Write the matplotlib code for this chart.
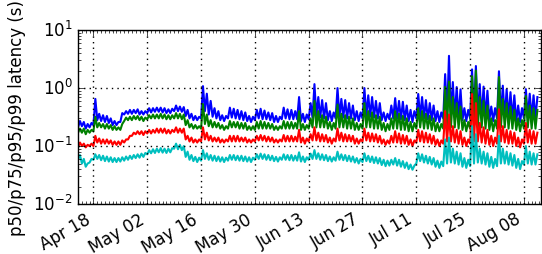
import numpy as np
import pandas as pd
import matplotlib
matplotlib.use("Agg")
import matplotlib.pyplot as plt
import matplotlib.dates as mdates
from matplotlib.ticker import LogLocator

plt.style.use("classic")

# one low (night) and one high (midday) value per day, from Apr 14 2016
start = "2016-04-14"
tick_dates = ["2016-04-18", "2016-05-02", "2016-05-16", "2016-05-30", "2016-06-13",
              "2016-06-27", "2016-07-11", "2016-07-25", "2016-08-08"]

p99_hi = [0.27, 0.26, 0.24, 0.25,
          0.65, 0.36, 0.34, 0.33, 0.30, 0.27, 0.26,
          0.37, 0.40, 0.42, 0.42, 0.43, 0.40, 0.40,
          0.45, 0.45, 0.46, 0.46, 0.45, 0.43, 0.44,
          0.50, 0.48, 0.47, 0.42, 0.36, 0.33, 0.32,
          1.08, 0.80, 0.60, 0.45, 0.40, 0.34, 0.33,
          0.46, 0.44, 0.42, 0.40, 0.38, 0.33, 0.32,
          0.42, 0.44, 0.41, 0.38, 0.37, 0.33, 0.32,
          0.46, 0.43, 0.42, 0.40, 0.70, 0.36, 0.35,
          0.55, 1.17, 0.70, 0.62, 0.55, 0.40, 0.38,
          1.00, 0.65, 0.62, 0.55, 0.50, 0.40, 0.38,
          1.00, 0.75, 0.70, 0.60, 0.55, 0.38, 0.36,
          0.50, 0.67, 0.60, 0.58, 0.50, 0.42, 0.40,
          0.79, 0.70, 0.62, 0.55, 0.50, 0.40, 0.38,
          1.74, 3.60, 1.27, 1.04, 0.95, 0.45, 0.42,
          2.10, 2.40, 1.17, 1.06, 0.90, 0.48, 0.45,
          1.95, 1.10, 0.95, 0.85, 0.75, 0.50, 0.45,
          0.96, 0.80, 0.75, 0.70]
p99_lo = [0.21, 0.22, 0.20, 0.21,
          0.23, 0.28, 0.27, 0.26, 0.25, 0.23, 0.23,
          0.26, 0.35, 0.36, 0.36, 0.37, 0.35, 0.35,
          0.37, 0.38, 0.39, 0.39, 0.38, 0.37, 0.37,
          0.40, 0.40, 0.39, 0.33, 0.30, 0.28, 0.28,
          0.30, 0.40, 0.35, 0.32, 0.30, 0.28, 0.27,
          0.30, 0.31, 0.30, 0.29, 0.28, 0.27, 0.26,
          0.28, 0.30, 0.29, 0.29, 0.28, 0.26, 0.26,
          0.29, 0.30, 0.29, 0.29, 0.29, 0.27, 0.26,
          0.29, 0.31, 0.32, 0.31, 0.30, 0.28, 0.27,
          0.30, 0.32, 0.31, 0.30, 0.30, 0.28, 0.27,
          0.30, 0.33, 0.32, 0.31, 0.30, 0.28, 0.27,
          0.29, 0.30, 0.30, 0.29, 0.28, 0.27, 0.26,
          0.30, 0.31, 0.30, 0.29, 0.28, 0.27, 0.26,
          0.30, 0.33, 0.32, 0.31, 0.30, 0.28, 0.27,
          0.30, 0.33, 0.32, 0.31, 0.30, 0.28, 0.27,
          0.30, 0.32, 0.31, 0.30, 0.29, 0.27, 0.26,
          0.30, 0.31, 0.30, 0.30]

p95_hi = [0.20, 0.20, 0.19, 0.19,
          0.32, 0.25, 0.24, 0.24, 0.23, 0.22, 0.21,
          0.24, 0.31, 0.32, 0.33, 0.33, 0.32, 0.31,
          0.34, 0.35, 0.35, 0.36, 0.35, 0.34, 0.34,
          0.37, 0.36, 0.35, 0.28, 0.24, 0.23, 0.22,
          0.53, 0.35, 0.28, 0.26, 0.25, 0.23, 0.22,
          0.27, 0.26, 0.26, 0.25, 0.25, 0.22, 0.22,
          0.26, 0.27, 0.26, 0.25, 0.24, 0.22, 0.22,
          0.27, 0.26, 0.26, 0.25, 0.40, 0.24, 0.23,
          0.30, 0.60, 0.40, 0.34, 0.32, 0.26, 0.25,
          0.52, 0.36, 0.34, 0.32, 0.30, 0.25, 0.24,
          0.55, 0.40, 0.38, 0.34, 0.32, 0.25, 0.24,
          0.30, 0.40, 0.36, 0.33, 0.30, 0.26, 0.25,
          0.45, 0.40, 0.36, 0.33, 0.30, 0.25, 0.24,
          1.05, 1.30, 0.70, 0.55, 0.48, 0.28, 0.26,
          1.60, 2.00, 0.70, 0.60, 0.50, 0.30, 0.28,
          1.55, 0.65, 0.55, 0.48, 0.42, 0.30, 0.28,
          0.73, 0.50, 0.45, 0.42]
p95_lo = [0.17, 0.17, 0.16, 0.17,
          0.18, 0.21, 0.21, 0.20, 0.20, 0.19, 0.19,
          0.19, 0.27, 0.28, 0.28, 0.29, 0.28, 0.27,
          0.29, 0.30, 0.30, 0.30, 0.30, 0.29, 0.29,
          0.30, 0.30, 0.29, 0.23, 0.21, 0.20, 0.20,
          0.20, 0.24, 0.22, 0.21, 0.21, 0.20, 0.19,
          0.20, 0.21, 0.21, 0.20, 0.20, 0.19, 0.19,
          0.19, 0.20, 0.20, 0.20, 0.20, 0.19, 0.19,
          0.20, 0.20, 0.20, 0.20, 0.20, 0.19, 0.19,
          0.20, 0.21, 0.21, 0.21, 0.21, 0.20, 0.19,
          0.20, 0.21, 0.21, 0.20, 0.20, 0.19, 0.19,
          0.20, 0.21, 0.21, 0.20, 0.20, 0.19, 0.18,
          0.19, 0.20, 0.20, 0.19, 0.19, 0.18, 0.18,
          0.20, 0.21, 0.20, 0.20, 0.19, 0.18, 0.18,
          0.20, 0.22, 0.21, 0.21, 0.20, 0.19, 0.18,
          0.20, 0.22, 0.21, 0.21, 0.20, 0.19, 0.18,
          0.20, 0.21, 0.21, 0.20, 0.20, 0.19, 0.18,
          0.20, 0.21, 0.20, 0.20]

p75_hi = [0.115, 0.11, 0.105, 0.11,
          0.15, 0.135, 0.13, 0.13, 0.125, 0.12, 0.12,
          0.125, 0.13, 0.15, 0.17, 0.18, 0.18, 0.18,
          0.19, 0.19, 0.20, 0.20, 0.20, 0.19, 0.19,
          0.21, 0.20, 0.20, 0.15, 0.14, 0.13, 0.13,
          0.21, 0.17, 0.15, 0.14, 0.14, 0.13, 0.13,
          0.15, 0.15, 0.15, 0.14, 0.14, 0.13, 0.13,
          0.15, 0.155, 0.15, 0.145, 0.14, 0.13, 0.13,
          0.155, 0.15, 0.15, 0.145, 0.19, 0.14, 0.135,
          0.16, 0.21, 0.17, 0.16, 0.155, 0.14, 0.135,
          0.20, 0.17, 0.16, 0.155, 0.15, 0.135, 0.13,
          0.20, 0.17, 0.165, 0.16, 0.15, 0.13, 0.125,
          0.15, 0.18, 0.165, 0.155, 0.15, 0.13, 0.125,
          0.19, 0.18, 0.17, 0.16, 0.15, 0.13, 0.125,
          0.40, 0.35, 0.22, 0.19, 0.18, 0.14, 0.13,
          0.79, 0.55, 0.25, 0.21, 0.19, 0.15, 0.14,
          0.43, 0.22, 0.19, 0.18, 0.17, 0.14, 0.13,
          0.25, 0.19, 0.18, 0.17]
p75_lo = [0.097, 0.10, 0.095, 0.10,
          0.10, 0.115, 0.11, 0.11, 0.11, 0.105, 0.105,
          0.105, 0.115, 0.13, 0.15, 0.16, 0.16, 0.155,
          0.165, 0.165, 0.17, 0.17, 0.17, 0.165, 0.165,
          0.175, 0.17, 0.17, 0.13, 0.12, 0.115, 0.115,
          0.12, 0.13, 0.125, 0.12, 0.12, 0.115, 0.115,
          0.12, 0.12, 0.12, 0.12, 0.12, 0.115, 0.115,
          0.12, 0.125, 0.125, 0.12, 0.12, 0.115, 0.115,
          0.12, 0.12, 0.12, 0.12, 0.12, 0.115, 0.11,
          0.12, 0.125, 0.125, 0.12, 0.12, 0.115, 0.11,
          0.12, 0.125, 0.12, 0.12, 0.12, 0.11, 0.11,
          0.12, 0.125, 0.12, 0.12, 0.115, 0.11, 0.105,
          0.11, 0.115, 0.115, 0.11, 0.11, 0.105, 0.10,
          0.115, 0.12, 0.115, 0.115, 0.11, 0.105, 0.10,
          0.11, 0.12, 0.12, 0.115, 0.11, 0.105, 0.10,
          0.11, 0.12, 0.12, 0.115, 0.11, 0.105, 0.10,
          0.11, 0.12, 0.115, 0.11, 0.11, 0.10, 0.095,
          0.11, 0.115, 0.11, 0.11]

p50_hi = [0.070, 0.060, 0.050, 0.060,
          0.072, 0.070, 0.068, 0.066, 0.064, 0.062, 0.062,
          0.064, 0.066, 0.068, 0.070, 0.072, 0.074, 0.076,
          0.085, 0.088, 0.090, 0.092, 0.090, 0.090, 0.092,
          0.110, 0.105, 0.100, 0.080, 0.070, 0.065, 0.063,
          0.085, 0.075, 0.070, 0.068, 0.066, 0.064, 0.063,
          0.070, 0.070, 0.068, 0.068, 0.066, 0.064, 0.063,
          0.072, 0.074, 0.072, 0.070, 0.068, 0.065, 0.064,
          0.072, 0.070, 0.070, 0.068, 0.078, 0.066, 0.064,
          0.074, 0.085, 0.075, 0.072, 0.070, 0.066, 0.064,
          0.080, 0.072, 0.070, 0.068, 0.066, 0.062, 0.060,
          0.075, 0.068, 0.066, 0.064, 0.062, 0.058, 0.056,
          0.058, 0.062, 0.058, 0.055, 0.052, 0.048, 0.046,
          0.075, 0.072, 0.068, 0.065, 0.062, 0.056, 0.054,
          0.130, 0.140, 0.090, 0.080, 0.075, 0.062, 0.058,
          0.220, 0.160, 0.090, 0.080, 0.075, 0.065, 0.060,
          0.150, 0.090, 0.080, 0.075, 0.070, 0.060, 0.055,
          0.100, 0.080, 0.075, 0.072]
p50_lo = [0.060, 0.050, 0.044, 0.052,
          0.058, 0.060, 0.057, 0.055, 0.054, 0.053, 0.053,
          0.054, 0.056, 0.058, 0.060, 0.062, 0.063, 0.065,
          0.072, 0.075, 0.076, 0.078, 0.077, 0.076, 0.078,
          0.090, 0.088, 0.085, 0.065, 0.058, 0.055, 0.053,
          0.056, 0.060, 0.058, 0.056, 0.055, 0.054, 0.053,
          0.056, 0.058, 0.057, 0.056, 0.055, 0.054, 0.053,
          0.058, 0.060, 0.060, 0.058, 0.057, 0.055, 0.054,
          0.058, 0.058, 0.057, 0.056, 0.056, 0.054, 0.053,
          0.058, 0.060, 0.060, 0.058, 0.057, 0.055, 0.054,
          0.056, 0.058, 0.057, 0.055, 0.054, 0.052, 0.050,
          0.053, 0.055, 0.053, 0.051, 0.050, 0.047, 0.045,
          0.046, 0.048, 0.046, 0.044, 0.042, 0.040, 0.039,
          0.050, 0.055, 0.052, 0.050, 0.048, 0.044, 0.042,
          0.045, 0.050, 0.052, 0.050, 0.048, 0.044, 0.042,
          0.045, 0.050, 0.052, 0.050, 0.048, 0.044, 0.042,
          0.045, 0.050, 0.050, 0.048, 0.046, 0.042, 0.040,
          0.048, 0.050, 0.048, 0.048]


def series(lo, hi):
    # night value then midday value for each day
    vals = np.empty(2 * len(lo))
    vals[0::2] = lo
    vals[1::2] = hi
    return vals


n_days = len(p99_hi)
t = pd.Timestamp(start) + pd.to_timedelta(np.arange(2 * n_days) * 12, unit="h")

fig = plt.figure(figsize=(5.42, 2.55), dpi=100, facecolor="white")
ax = fig.add_axes([0.144, 0.196, 0.854, 0.682])

ax.plot(t, series(p99_lo, p99_hi), color="b", lw=1.5)
ax.plot(t, series(p95_lo, p95_hi), color="g", lw=1.5)
ax.plot(t, series(p75_lo, p75_hi), color="r", lw=1.5)
ax.plot(t, series(p50_lo, p50_hi), color="c", lw=1.5)

ax.set_yscale("log")
ax.set_ylim(1e-2, 1e1)
ax.set_xlim(pd.Timestamp("2016-04-14"), pd.Timestamp("2016-08-12 10:00"))
ax.yaxis.set_major_locator(LogLocator(base=10))
ax.yaxis.set_minor_locator(LogLocator(base=10, subs=np.arange(2, 10)))

ax.set_xticks(pd.to_datetime(tick_dates))
ax.xaxis.set_minor_locator(mdates.DayLocator())
ax.xaxis.set_major_formatter(mdates.DateFormatter("%b %d"))
for lab in ax.get_xticklabels():
    lab.set_rotation(30)
    lab.set_ha("right")

ax.grid(True, which="major", color="k", linestyle=":", lw=1)
ax.set_ylabel("p50/p75/p95/p99 latency (s)", fontsize=12)
ax.tick_params(labelsize=12)

fig.savefig("out.png", dpi=100, facecolor="white")
